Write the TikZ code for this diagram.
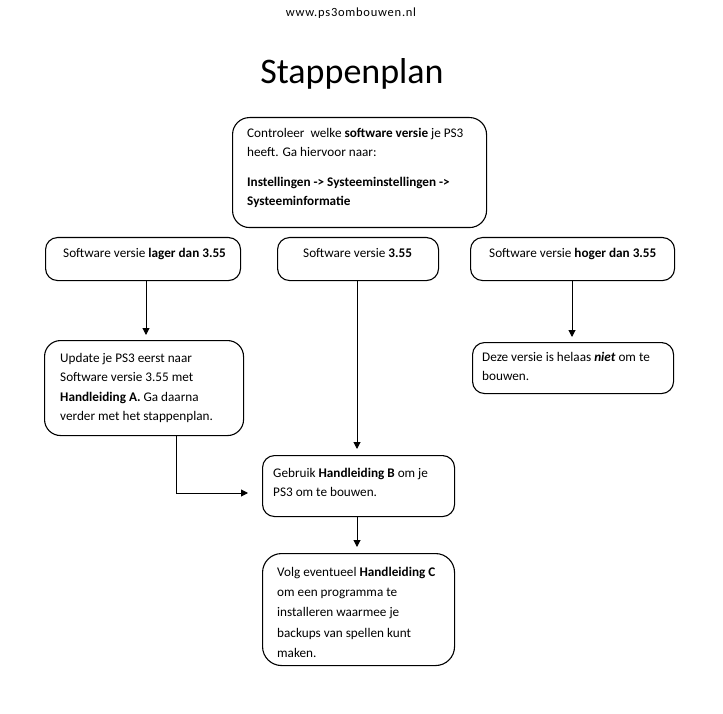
\documentclass[tikz,border=0pt]{standalone}
\usepackage{fontspec}
\setmainfont{Carlito}
\usetikzlibrary{arrows.meta}
\begin{document}
\begin{tikzpicture}[x=1pt,y=-1pt,
  box/.style={draw=black, line width=1.1pt, rounded corners=#1, inner sep=0pt, anchor=north west},
  box/.default=12pt,
  txt/.style={anchor=base west, inner sep=0pt, font=\fontsize{13.2}{20}\selectfont},
  arr/.style={draw=black, line width=1pt, -{Triangle[length=7pt,width=7pt]}}]
\useasboundingbox (0,0) rectangle (723,714);
% header
\node[anchor=base, inner sep=0pt, font=\fontsize{12.5}{14}\selectfont\addfontfeatures{LetterSpace=6}] (web) at (351,17) {www.ps3ombouwen.nl};
\node[anchor=base, inner sep=0pt, font=\fontsize{36}{40}\selectfont] (title) at (352,84) {Stappenplan};
% boxes
\node[box=17pt, minimum width=254pt, minimum height=110pt] (top) at (232,117) {};
\node[box, minimum width=195pt, minimum height=43pt] (lager) at (45,237) {};
\node[box, minimum width=161pt, minimum height=43pt] (mid) at (277,237) {};
\node[box, minimum width=204pt, minimum height=43pt] (hoger) at (470,237) {};
\node[box=16pt, minimum width=199pt, minimum height=95pt] (upd) at (44,340) {};
\node[box, minimum width=201pt, minimum height=51pt] (deze) at (472,342) {};
\node[box, minimum width=192pt, minimum height=61pt] (gebr) at (262,455) {};
\node[box=19pt, minimum width=192pt, minimum height=112pt] (volg) at (262,553) {};
% texts
\node[txt] (t1) at (247,138) {Controleer\ \ welke \textbf{software versie} je PS3};
\node[txt] (t2) at (247,157) {heeft. Ga hiervoor naar:};
\node[txt] (t3) at (247,187) {\textbf{Instellingen -> Systeeminstellingen ->}};
\node[txt] (t4) at (247,206) {\textbf{Systeeminformatie}};
\node[txt] (l1) at (63,258) {Software versie \textbf{lager dan 3.55}};
\node[txt] (m1) at (303,258) {Software versie \textbf{3.55}};
\node[txt] (h1) at (489,258) {Software versie \textbf{hoger dan 3.55}};
\node[txt] (u1) at (60,362) {Update je PS3 eerst naar};
\node[txt] (u2) at (60,381) {Software versie 3.55 met};
\node[txt] (u3) at (60,401) {\textbf{Handleiding A.} Ga daarna};
\node[txt] (u4) at (60,420) {verder met het stappenplan.};
\node[txt] (d1) at (482,361) {Deze versie is helaas \textbf{\textit{niet}} om te};
\node[txt] (d2) at (482,380) {bouwen.};
\node[txt] (g1) at (273,477) {Gebruik \textbf{Handleiding B} om je};
\node[txt] (g2) at (273,496) {PS3 om te bouwen.};
\node[txt] (v1) at (277,576) {Volg eventueel \textbf{Handleiding C}};
\node[txt] (v2) at (277,596) {om een programma te};
\node[txt] (v3) at (277,616) {installeren waarmee je};
\node[txt] (v4) at (277,637) {backups van spellen kunt};
\node[txt] (v5) at (277,657) {maken.};
% connectors
\coordinate (xa) at (146,0);
\coordinate (xb) at (357,0);
\coordinate (xc) at (572,0);
\coordinate (xd) at (176,0);
\coordinate (yd) at (0,493);
\draw[arr, shorten >=5pt] (lager.south -| xa) -- (upd.north -| xa);
\draw[arr, shorten >=6pt] (mid.south -| xb) -- (gebr.north -| xb);
\draw[arr, shorten >=5pt] (hoger.south -| xc) -- (deze.north -| xc);
\draw[arr, shorten >=6pt] (gebr.south -| xb) -- (volg.north -| xb);
\draw[arr, shorten >=14pt] (upd.south -| xd) -- (xd |- yd) -- (gebr.west |- yd);
\end{tikzpicture}
\end{document}
